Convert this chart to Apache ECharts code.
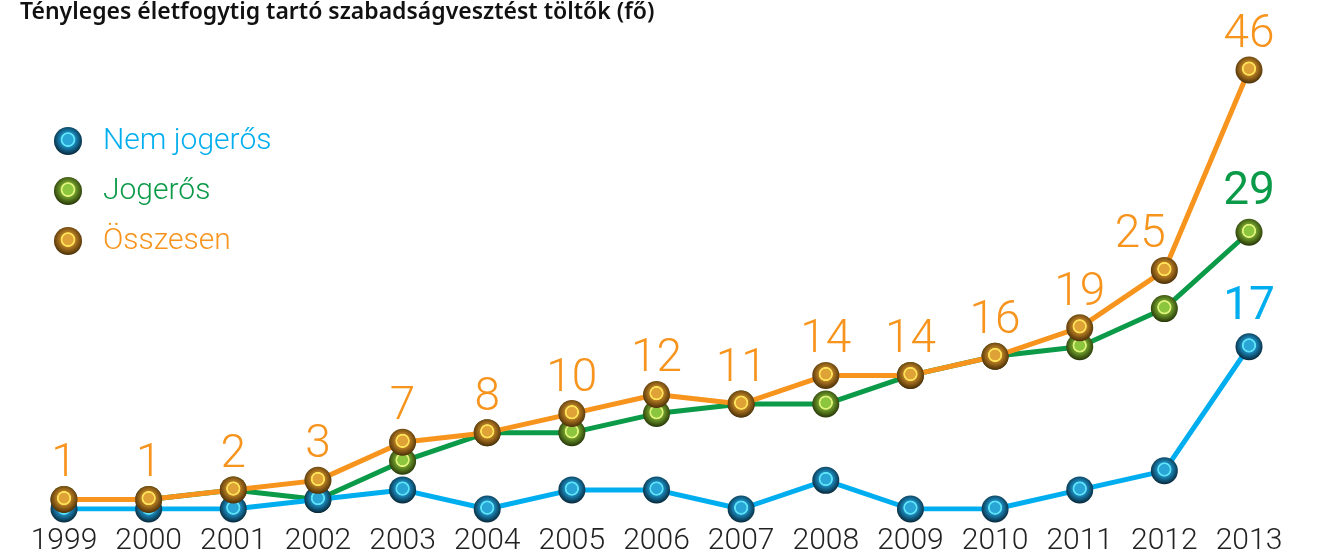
<!DOCTYPE html>
<html>
<head>
<meta charset="utf-8">
<script src="https://cdn.jsdelivr.net/npm/echarts@6/dist/echarts.min.js"></script>
<style>
  html, body { margin: 0; padding: 0; background: #fff; }
  #chart { width: 1319px; height: 556px; }
</style>
</head>
<body>
<div id="chart"></div>
<script>
// évek és adatok
const years = ["1999", "2000", "2001", "2002", "2003", "2004", "2005", "2006", "2007", "2008", "2009", "2010", "2011", "2012", "2013"];
const nemJogeros = [0, 0, 0, 1, 2, 0, 2, 2, 0, 3, 0, 0, 2, 4, 17];
const jogeros = [1, 1, 2, 1, 5, 8, 8, 10, 11, 11, 14, 16, 17, 21, 29];
const osszesen = [1, 1, 2, 3, 7, 8, 10, 12, 11, 14, 14, 16, 19, 25, 46];

const FONT = "Roboto";

// gömb jelölő: sötét szél, világos közép, vékony gyűrű
function ball(outer, mid, ring, inner) {
  return new echarts.graphic.RadialGradient(0.5, 0.45, 0.55, [
    { offset: 0, color: inner },
    { offset: 0.34, color: inner },
    { offset: 0.38, color: ring },
    { offset: 0.45, color: ring },
    { offset: 0.5, color: mid },
    { offset: 1, color: outer },
  ]);
}

const blueBall = ball("#072638", "#1a86b8", "#5fe3f7", "#2aa6d6");
const greenBall = ball("#253508", "#6e9a2a", "#dff27a", "#8cc63f");
const orangeBall = ball("#4a2f08", "#b37a22", "#ffe45a", "#dfa236");

const chart = echarts.init(document.getElementById("chart"));

function lastLabel(arr, color) {
  return arr.map((v, i) =>
    i === arr.length - 1
      ? { value: v, label: { show: true, position: "top", distance: 3, color: color, fontSize: 46, fontFamily: FONT, fontWeight: 400 } }
      : v
  );
}

const option = {
  animation: false,
  title: {
    text: "Tényleges életfogytig tartó szabadságvesztést töltők (fő)",
    left: 15,
    top: -4,
    textStyle: { fontFamily: "Noto Sans", fontSize: 23, fontWeight: 600, color: "#111" },
  },
  legend: {
    orient: "vertical",
    left: 49,
    top: 121,
    itemGap: 20,
    itemWidth: 28,
    itemHeight: 30,
    icon: "circle",
    textStyle: { fontFamily: FONT, fontSize: 30, fontWeight: 300, padding: [0, 0, 0, 16] },
    data: [
      { name: "Nem jogerős", textStyle: { color: "#00aeef" } },
      { name: "Jogerős", textStyle: { color: "#0a9a48" } },
      { name: "Összesen", textStyle: { color: "#f7941d" } },
    ],
  },
  grid: { left: 64, right: 70, top: 70, bottom: 46 },
  xAxis: {
    type: "category",
    data: years,
    boundaryGap: false,
    axisLine: { show: false },
    axisTick: { show: false },
    axisLabel: { interval: 0, color: "#222", fontFamily: FONT, fontSize: 30, fontWeight: 300, margin: 17 },
  },
  yAxis: {
    type: "value",
    min: 0,
    max: 46,
    show: false,
    splitLine: { show: false },
  },
  series: [
    {
      name: "Jogerős",
      type: "line",
      z: 2,
      data: lastLabel(jogeros, "#0a9a48"),
      lineStyle: { color: "#0a9a48", width: 5 },
      symbol: "circle",
      symbolSize: 27,
      showAllSymbol: true,
      itemStyle: { color: greenBall },
    },
    {
      name: "Nem jogerős",
      type: "line",
      z: 3,
      data: lastLabel(nemJogeros, "#00aeef"),
      lineStyle: { color: "#00aeef", width: 5 },
      symbol: "circle",
      symbolSize: 27,
      showAllSymbol: true,
      itemStyle: { color: blueBall },
    },
    {
      name: "Összesen",
      type: "line",
      z: 4,
      // a 2012-es címke balra tolva, hogy ne takarja a vonal
      data: osszesen.map((v, i) =>
        i === osszesen.length - 2 ? { value: v, label: { offset: [-24, 0] } } : v
      ),
      lineStyle: { color: "#f7941d", width: 5 },
      symbol: "circle",
      symbolSize: 27,
      showAllSymbol: true,
      itemStyle: { color: orangeBall },
      label: {
        show: true,
        position: "top",
        distance: -2,
        color: "#f7941d",
        fontFamily: FONT,
        fontSize: 46,
        fontWeight: 300,
      },
    },
  ],
};

chart.setOption(option);
</script>
</body>
</html>
